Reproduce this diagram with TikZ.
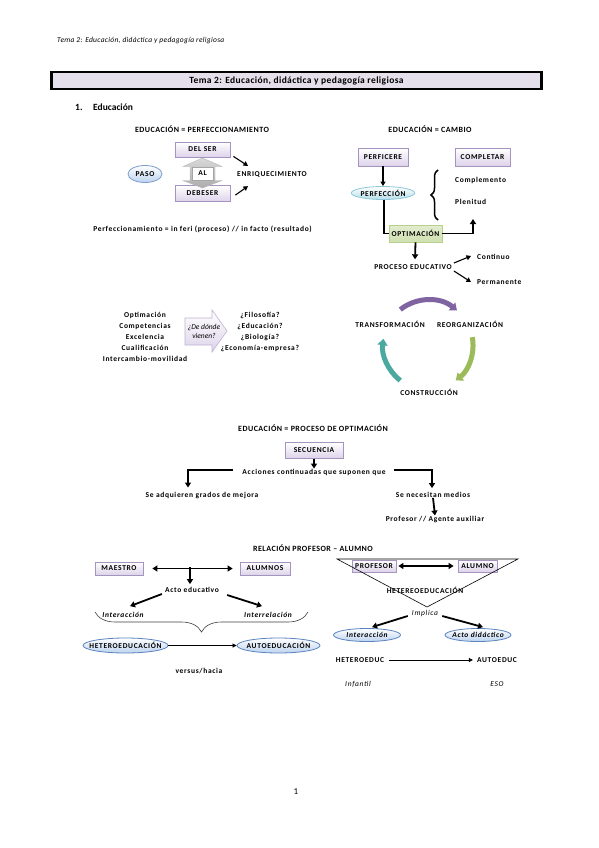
\documentclass[tikz,border=0pt]{standalone}
\usepackage{fontspec}
\setmainfont{Carlito}
\newfontfamily\dfnt[LetterSpace=9]{Carlito}
\newfontfamily\tfnt[LetterSpace=6]{Carlito}
\newfontfamily\hfnt[LetterSpace=4]{Carlito}
\usetikzlibrary{arrows.meta,decorations.pathreplacing,shapes.geometric,calc}
\definecolor{lav}{HTML}{DDD3EA}
\definecolor{lavedge}{HTML}{A594C0}
\definecolor{titlefill}{HTML}{E5DFEC}
\definecolor{ellfill}{HTML}{BDD3EF}
\definecolor{elledge}{HTML}{5B84BF}
\definecolor{aqfill}{HTML}{B7DEE8}
\definecolor{aqedge}{HTML}{8CC8DA}
\definecolor{grfill}{HTML}{CFE0B0}
\definecolor{gredge}{HTML}{B9CF8C}
\definecolor{cpurple}{HTML}{8064A2}
\definecolor{cgreen}{HTML}{9BBB59}
\definecolor{cteal}{HTML}{4BA9A0}
\begin{document}
\begin{tikzpicture}[x=1pt,y=-1pt,
  txt/.style={font={\dfnt\fontsize{7.5}{9}\selectfont\bfseries}, inner sep=0pt},
  ttl/.style={font={\tfnt\fontsize{8}{9}\selectfont\bfseries}, inner sep=0pt},
  itxt/.style={font={\dfnt\fontsize{7.5}{9}\selectfont\itshape}, inner sep=0pt},
  bitxt/.style={font={\dfnt\fontsize{7.5}{9}\selectfont\bfseries\itshape}, inner sep=0pt},
  lbox/.style={draw=lavedge, line width=0.8pt, top color=white, bottom color=lav, inner sep=0pt, font={\dfnt\fontsize{7.5}{9}\selectfont\bfseries}},
  bell/.style={ellipse, draw=elledge, line width=0.8pt, top color=white, bottom color=ellfill, inner ysep=0pt, inner xsep=-12pt, font={\dfnt\fontsize{7.5}{9}\selectfont\bfseries}},
  tarrow/.style={line width=1.8pt, -{Triangle[length=5pt,width=6pt]}},
  marrow/.style={line width=1.1pt, -{Triangle[length=4.5pt,width=5pt]}},
  tline/.style={line width=1.8pt},
  cyc/.style={line width=5pt, -{Triangle[length=6.5pt,width=10pt]}}
]
\useasboundingbox (0,0) rectangle (599,848);
\fill[white] (0,0) rectangle (599,848);

% header
\node[anchor=west, font={\hfnt\fontsize{7.5}{8}\selectfont\itshape}, inner sep=0pt] (hdr) at (57,41) {Tema 2: Educación, didáctica y pedagogía religiosa};
\node[draw, line width=2.2pt, fill=titlefill, minimum width=490, minimum height=17, font={\hfnt\fontsize{9.5}{10}\selectfont\bfseries}] (title) at (296.5,80.5) {Tema 2: Educación, didáctica y pedagogía religiosa};
\node[anchor=west, inner sep=0pt, font=\fontsize{9.5}{10}\selectfont\bfseries] (num) at (75,107) {1.};
\node[anchor=west, inner sep=0pt, font=\fontsize{9.5}{10}\selectfont\bfseries] (edu) at (93,107) {Educación};

% top left
\node[ttl] (t1) at (202,129) {EDUCACIÓN = PERFECCIONAMIENTO};
\node[lbox, minimum width=55, minimum height=15] (delser) at (202.5,149.5) {DEL SER};
\node[lbox, minimum width=55, minimum height=16] (debeser) at (202.5,193.5) {DEBESER};
\shade[top color=gray!30, bottom color=gray!65, draw=gray!55] (202.5,158) -- (222,166.5) -- (215,166.5) -- (215,180.5) -- (222,180.5) -- (202.5,188) -- (183,180.5) -- (190,180.5) -- (190,166.5) -- (183,166.5) -- cycle;
\node[draw=gray!70, fill=white, minimum width=21, minimum height=13, txt] (al) at (202.5,173.5) {AL};
\node[bell, draw=elledge!80, minimum width=34, minimum height=17, inner xsep=-4pt] (paso) at (145,174) {PASO};
\node[txt, anchor=west] (enr) at (237,175) {ENRIQUECIMIENTO};
\draw[marrow] ($(delser.south east)+(3,-1)$) -- ($(enr.north west)+(11,-6)$);
\draw[marrow] ($(debeser.north east)+(5,10)$) -- ($(enr.south west)+(11,8)$);
\node[txt] (perf) at (202.5,229) {Perfeccionamiento = in feri (proceso) // in facto (resultado)};

% top right
\node[ttl] (t2) at (430,129) {EDUCACIÓN = CAMBIO};
\node[lbox, minimum width=50, minimum height=18] (perfi) at (383,157) {PERFICERE};
\node[lbox, minimum width=55, minimum height=18] (compl) at (482.5,157) {COMPLETAR};
\node[ellipse, draw=aqedge, line width=0.8pt, top color=white, bottom color=aqfill, inner ysep=0pt, inner xsep=-9pt, minimum width=50, minimum height=13, txt] (perfec) at (383,193) {PERFECCIÓN};
\draw[marrow] (perfi) -- (perfec);
\node[draw=gredge, line width=0.8pt, top color=white!40!grfill, bottom color=grfill, inner sep=0pt, minimum width=53, minimum height=17, txt] (optim) at (415.5,233.5) {OPTIMACIÓN};
\draw[tline] ($(perfec.south)+(1,0)$) |- (optim.west);
\draw[decorate, decoration={brace, amplitude=7pt}, line width=1.5pt] (438,220) -- (438,170);
\node[txt, anchor=west] (cmp) at (455,180) {Complemento};
\node[txt, anchor=west] (plen) at (455,202) {Plenitud};
\coordinate (ptop) at (473,219);
\draw[tarrow] (optim.east) -| (ptop);
\node[txt] (proc) at (413,267) {PROCESO EDUCATIVO};
\draw[tarrow] (optim.south) -- ($(proc.north)+(2,-5)$);
\node[txt, anchor=west] (cont) at (477,257) {Continuo};
\node[txt, anchor=west] (perm) at (477,282) {Permanente};
\draw[marrow] ($(proc.east)+(2,-4)$) -- ($(cont.west)+(-6,-1)$);
\draw[marrow] ($(proc.east)+(2,4)$) -- ($(perm.west)+(-6,0)$);

% middle left
\node[txt, align=center, font={\dfnt\fontsize{7.5}{11}\selectfont\bfseries}] (list1) at (145,337) {Optimación\\Competencias\\Excelencia\\Cualificación\\Intercambio-movilidad};
\shade[top color=white, bottom color=lav, draw=lavedge!70, line width=0.6pt] (185,318) -- (212,318) -- (212,310) -- (227,331) -- (212,352) -- (212,345) -- (185,345) -- cycle;
\node[itxt, align=center, font={\fontsize{7.5}{9}\selectfont\itshape}] (dd) at (204,331) {¿De dónde\\vienen?};
\node[txt, align=center, font={\dfnt\fontsize{7.5}{11}\selectfont\bfseries}] (list2) at (260,332) {¿Filosofía?\\¿Educación?\\¿Biología?\\¿Economía-empresa?};

% cycle
\coordinate (cc) at (428,345);
\node[txt] (trans) at (390,324) {TRANSFORMACIÓN};
\node[txt] (reorg) at (470,324) {REORGANIZACIÓN};
\node[txt] (constr) at (429,392) {CONSTRUCCIÓN};
\draw[cyc, cpurple] (cc) ++(232:45) arc[start angle=232, end angle=310, radius=45];
\draw[cyc, cgreen] (cc) ++(-10:45) arc[start angle=-10, end angle=52, radius=45];
\draw[cyc, cteal] (cc) ++(128:45) arc[start angle=128, end angle=188, radius=45];

% section 3
\node[ttl] (t3) at (313,428) {EDUCACIÓN = PROCESO DE OPTIMACIÓN};
\node[lbox, minimum width=58, minimum height=16] (sec) at (314,450.5) {SECUENCIA};
\node[txt] (acc) at (314,472) {Acciones continuadas que suponen que};
\draw[tarrow] (sec.south) -- (acc.north);
\node[txt] (adq) at (202,495) {Se adquieren grados de mejora};
\node[txt] (nec) at (433,495) {Se necesitan medios};
\node[txt] (prof) at (435,519) {Profesor // Agente auxiliar};
\draw[tarrow] ($(acc.west)+(-9,-2)$) -| ($(adq.north)+(-14,-4)$);
\draw[tarrow] ($(acc.east)+(8,-2)$) -| ($(nec.north)+(-1,-4)$);
\draw[tarrow] (nec.south) -- (prof.north);

% section 4 left
\node[ttl] (t4) at (313,548) {RELACIÓN PROFESOR – ALUMNO};
\node[lbox, minimum width=48, minimum height=13] (maes) at (119,568.5) {MAESTRO};
\node[lbox, minimum width=50, minimum height=13] (alum) at (265,568.5) {ALUMNOS};
\draw[tarrow, {Triangle[length=5pt,width=6pt]}-{Triangle[length=5pt,width=6pt]}, shorten <=9pt, shorten >=7pt] (maes) -- (alum);
\coordinate (mid) at (190,567);
\node[txt] (acto) at (192,590) {Acto educativo};
\draw[tarrow] (mid) -- ($(acto.north)+(-2,-3)$);
\node[bitxt] (inter) at (123,615) {Interacción};
\node[bitxt] (interr) at (268,615) {Interrelación};
\draw[tarrow] ($(acto.west)+(-3,4)$) -- ($(inter.north)+(7,-6)$);
\draw[tarrow] ($(acto.east)+(8,5)$) -- ($(interr.north)+(-6,-6)$);
\draw[decorate, decoration={brace, amplitude=20pt}, draw=black!75, line width=0.6pt] (308,612) -- (95,612);
\node[bell, minimum width=85, minimum height=15] (hetero) at (125.5,645.5) {HETEROEDUCACIÓN};
\node[bell, minimum width=83, minimum height=15] (auto) at (278.5,645.5) {AUTOEDUCACIÓN};
\draw[line width=0.7pt, -{Triangle[length=4pt,width=4pt]}] (hetero) -- (auto);
\node[txt] (vs) at (199,671) {versus/hacia};

% section 4 right
\node[lbox, minimum width=44, minimum height=12] (profb) at (374,566) {PROFESOR};
\node[lbox, minimum width=39, minimum height=12] (alumb) at (477.5,566) {ALUMNO};
\coordinate (ta) at (337,559);
\coordinate (tb) at (518,559);
\coordinate (tc) at (427,607);
\draw[line width=0.6pt] (ta) -- (tb) -- (tc) -- cycle;
\draw[tarrow, {Triangle[length=5pt,width=6pt]}-{Triangle[length=5pt,width=6pt]}, shorten <=2pt, shorten >=4pt] (profb) -- (alumb);
\node[txt] (het2) at (425,590) {HETEREOEDUCACIÓN};
\node[itxt] (impl) at (425,613) {Implica};
\node[bell, minimum width=67, minimum height=13, font={\dfnt\fontsize{7.5}{9}\selectfont\bfseries\itshape}] (interE) at (367,635) {Interacción};
\node[bell, minimum width=66, minimum height=13, font={\dfnt\fontsize{7.5}{9}\selectfont\bfseries\itshape}] (actoE) at (478,635) {Acto didáctico};
\draw[tarrow] ($(impl.west)+(-4,3)$) -- ($(interE.north)+(5,-1)$);
\draw[tarrow] ($(impl.east)+(4,3)$) -- ($(actoE.north)+(5,-1)$);
\node[txt] (he) at (360,660) {HETEROEDUC};
\node[txt] (au) at (497,660) {AUTOEDUC};
\draw[line width=0.7pt, -{Triangle[length=4pt,width=4pt]}, shorten <=5pt, shorten >=4pt] (he) -- (au);
\node[itxt] (inf) at (358,684) {Infantil};
\node[itxt] (eso) at (497,684) {ESO};

\node[font=\fontsize{9}{10}\selectfont, inner sep=0pt] (page) at (296,792) {1};
\end{tikzpicture}
\end{document}
